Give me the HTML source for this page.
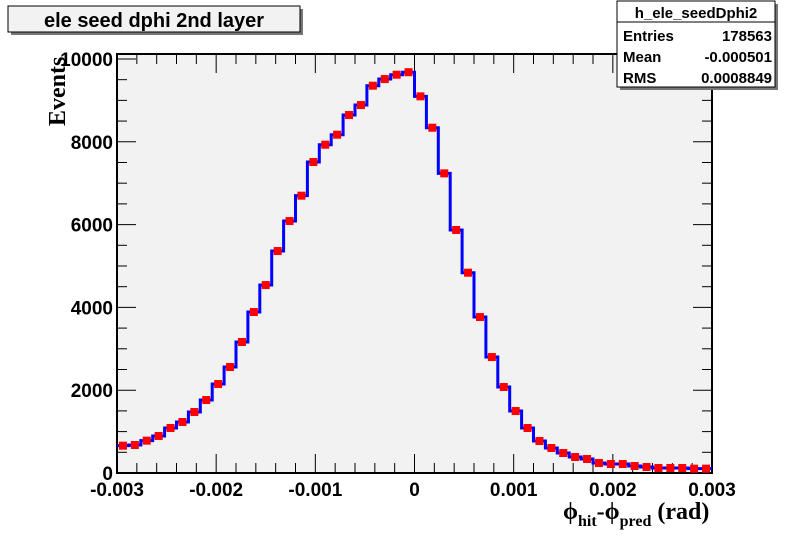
<!DOCTYPE html>
<html><head><meta charset="utf-8"><style>
body{margin:0;background:#fff;}
svg{display:block;font-family:"Liberation Sans",sans-serif;}
</style></head><body>
<svg id="chart" width="792" height="544" viewBox="0 0 792 544">
<rect x="0" y="0" width="792" height="544" fill="#fff"/>
<rect x="117" y="54" width="595" height="419" fill="#f2f2f2" stroke="#000" stroke-width="2"/>
<g id="ticks"></g>
<g id="labels"></g>
<g id="series"></g>
<rect x="11" y="9" width="292" height="26" fill="#777"/>
<rect x="8" y="6" width="292" height="26" fill="#f2f2f2" stroke="#000" stroke-width="1"/>
<text x="154" y="27" text-anchor="middle" font-size="20" font-weight="bold">ele seed dphi 2nd layer</text>
<g>
<rect x="620" y="4" width="158" height="86" fill="#777"/>
<rect x="617" y="1" width="158" height="86" fill="#fff" stroke="#000"/>
<line x1="617" y1="22" x2="775" y2="22" stroke="#000"/>
<text x="696" y="18" text-anchor="middle" font-size="15" font-weight="bold">h_ele_seedDphi2</text>
<text x="623" y="41" font-size="15" font-weight="bold">Entries</text>
<text x="772" y="41" text-anchor="end" font-size="15" font-weight="bold">178563</text>
<text x="623" y="62" font-size="15" font-weight="bold">Mean</text>
<text x="772" y="62" text-anchor="end" font-size="15" font-weight="bold">-0.000501</text>
<text x="623" y="83" font-size="15" font-weight="bold">RMS</text>
<text x="772" y="83" text-anchor="end" font-size="15" font-weight="bold">0.0008849</text>
</g>
<text transform="translate(65,126) rotate(-90)" font-family="Liberation Serif,serif" font-size="24" font-weight="bold">Events</text>
<text x="563" y="519" font-family="Liberation Serif,serif" font-size="24" font-weight="bold">ϕ<tspan font-size="16" dy="7">hit</tspan><tspan dy="-7">-ϕ</tspan><tspan font-size="16" dy="7">pred</tspan><tspan dy="-7"> (rad)</tspan></text>
</svg>
<script>
const counts=[660,676,781,894,1087,1232,1473,1763,2149,2560,3164,3888,4540,5361,6086,6698,7511,7929,8171,8646,8887,9354,9515,9620,9680,9097,8340,7237,5869,4838,3767,2801,2077,1497,1087,773,604,483,386,338,242,217,217,169,145,121,121,121,105,105];
const xTicks=[-0.003,-0.002,-0.001,0,0.001,0.002,0.003];
const xTickLabels=["-0.003","-0.002","-0.001","0","0.001","0.002","0.003"];
const yTicks=[0,2000,4000,6000,8000,10000];
const yTickLabels=["0","2000","4000","6000","8000","10000"];
const xMin=-0.003,xMax=0.003,yMax=10120;
const L=117,R=712,T=54,B=473;
const NS='http://www.w3.org/2000/svg';
function sx(v){return L+(v-xMin)/(xMax-xMin)*(R-L);}
function sy(v){return B-v/yMax*(B-T);}
function mk(tag,attrs,parent){const e=document.createElementNS(NS,tag);for(const k in attrs)e.setAttribute(k,attrs[k]);parent.appendChild(e);return e;}
const tg=document.getElementById('ticks'),lg=document.getElementById('labels'),sg=document.getElementById('series');
for(let i=0;i<=30;i++){const v=xMin+i*0.0002;const x=sx(v);const len=(i%5===0)?19:10;
const a=mk('line',{x1:x,y1:B,x2:x,y2:B-len,stroke:'#000','stroke-width':1},tg);


const b=mk('line',{x1:x,y1:T,x2:x,y2:T+len,stroke:'#000','stroke-width':1},tg);

}
for(let i=0;i<=20;i++){const v=i*500;if(v>yMax)break;const y=sy(v);const len=(i%4===0)?19:10;
const a=mk('line',{x1:L,y1:y,x2:L+len,y2:y,stroke:'#000','stroke-width':1},tg);


const b=mk('line',{x1:R,y1:y,x2:R-len,y2:y,stroke:'#000','stroke-width':1},tg);

}
xTicks.forEach((v,i)=>{const t=mk('text',{x:sx(v),y:496,'text-anchor':'middle','font-size':19,'font-weight':'bold'},lg);t.textContent=xTickLabels[i];

});
yTicks.forEach((v,i)=>{const t=mk('text',{x:113,y:sy(v)+7,'text-anchor':'end','font-size':19,'font-weight':'bold'},lg);t.textContent=yTickLabels[i];

});
const n=counts.length,bw=(xMax-xMin)/n;
let d='M'+sx(xMin)+','+sy(counts[0]);
counts.forEach((c,i)=>{d+=' L'+sx(xMin+i*bw)+','+sy(c)+' L'+sx(xMin+(i+1)*bw)+','+sy(c);});
const p=mk('path',{d:d,fill:'none',stroke:'#0000ff','stroke-width':3},sg);


counts.forEach((c,i)=>{const cx=sx(xMin+(i+0.5)*bw),cy=sy(c);
const r=mk('rect',{x:cx-4,y:cy-4,width:8,height:8,fill:'#ff0000'},sg);

});
</script>
</body></html>
